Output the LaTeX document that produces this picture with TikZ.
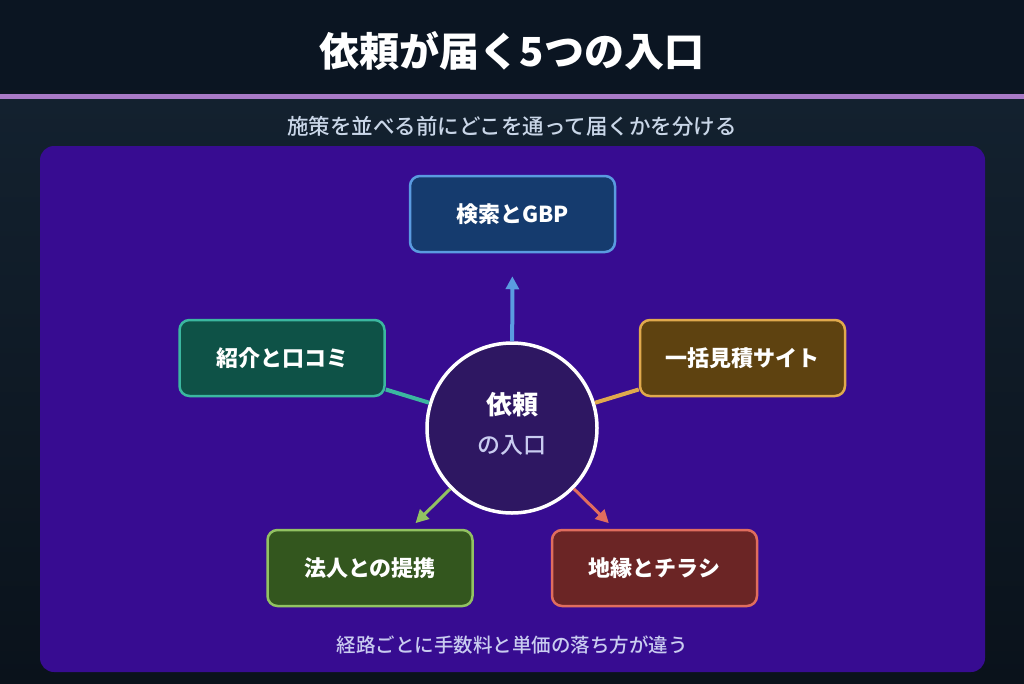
\documentclass[tikz,border=0pt]{standalone}
\usepackage{fontspec}
\setmainfont{Noto Sans CJK JP}
\newfontfamily\jpmed{Noto Sans CJK JP Medium}
\usetikzlibrary{arrows.meta}
\definecolor{hdr}{HTML}{0B1522}
\definecolor{bar}{HTML}{A97AC6}
\definecolor{bgtop}{HTML}{13212F}
\definecolor{bgbot}{HTML}{0A121B}
\definecolor{panel}{HTML}{370C91}
\definecolor{subc}{HTML}{C9D6E8}
\definecolor{capc}{HTML}{C9CCF0}
\definecolor{hubfill}{HTML}{2E1762}
\definecolor{bluef}{HTML}{153B6E}\definecolor{blued}{HTML}{5A9BE0}
\definecolor{tealf}{HTML}{0E5247}\definecolor{teald}{HTML}{3BB7A0}
\definecolor{goldf}{HTML}{5E4210}\definecolor{goldd}{HTML}{E0A94D}
\definecolor{greenf}{HTML}{33561E}\definecolor{greend}{HTML}{92C262}
\definecolor{redf}{HTML}{6B2525}\definecolor{redd}{HTML}{E06D5E}
\tikzset{
  entry/.style={draw, line width=2.5pt, rounded corners=10pt, minimum width=205pt, minimum height=76pt, inner sep=0pt, text=white, font=\bfseries\fontsize{22}{26}\selectfont},
  conn/.style={line width=4pt},
  tip/.style={-{Triangle[length=13pt,width=13pt]}},
}
\begin{document}
\begin{tikzpicture}[x=1pt,y=-1pt]
\useasboundingbox (0,0) rectangle (1024,683);
\fill[hdr] (0,0) rectangle (1024,94);
\fill[bar] (0,94) rectangle (1024,99.5);
\shade[top color=bgtop,bottom color=bgbot] (0,99.5) rectangle (1024,683);
\fill[panel, rounded corners=14pt] (40,146) rectangle (985,672);
\node[text=white, font=\bfseries\fontsize{40}{48}\selectfont] (title) at (512,51) {依頼が届く5つの入口};
\node[text=subc, font=\jpmed\fontsize{21.5}{26}\selectfont] (sub) at (512,126) {施策を並べる前にどこを通って届くかを分ける};
\node[circle, draw=white, line width=3.5pt, fill=hubfill, minimum size=170pt, inner sep=0pt] (hub) at (512,428) {};
\node[text=white, font=\bfseries\fontsize{26}{30}\selectfont] (hubt) at (512,405) {依頼};
\node[text=capc, font=\jpmed\fontsize{23}{27}\selectfont] (hubs) at (512,445) {の入口};
\node[entry, fill=bluef, draw=blued] (gbp) at (512.5,214) {検索とGBP};
\node[entry, fill=tealf, draw=teald] (refer) at (282,358) {紹介と口コミ};
\node[entry, fill=goldf, draw=goldd] (quote) at (742.5,358) {一括見積サイト};
\node[entry, fill=greenf, draw=greend] (corp) at (370,568) {法人との提携};
\node[entry, fill=redf, draw=redd] (local) at (654.5,568) {地縁とチラシ};
\draw[conn, blued, tip, shorten >=23pt] (hub) -- (gbp);
\draw[conn, teald] (hub) -- (refer);
\draw[conn, goldd] (hub) -- (quote);
\draw[conn, line width=3pt, greend, tip, shorten >=8pt] (hub) -- (corp);
\draw[conn, line width=3pt, redd, tip, shorten >=8pt] (hub) -- (local);
\node[text=capc, font=\jpmed\fontsize{19.5}{24}\selectfont] (cap) at (512,645) {経路ごとに手数料と単価の落ち方が違う};
\end{tikzpicture}
\end{document}
